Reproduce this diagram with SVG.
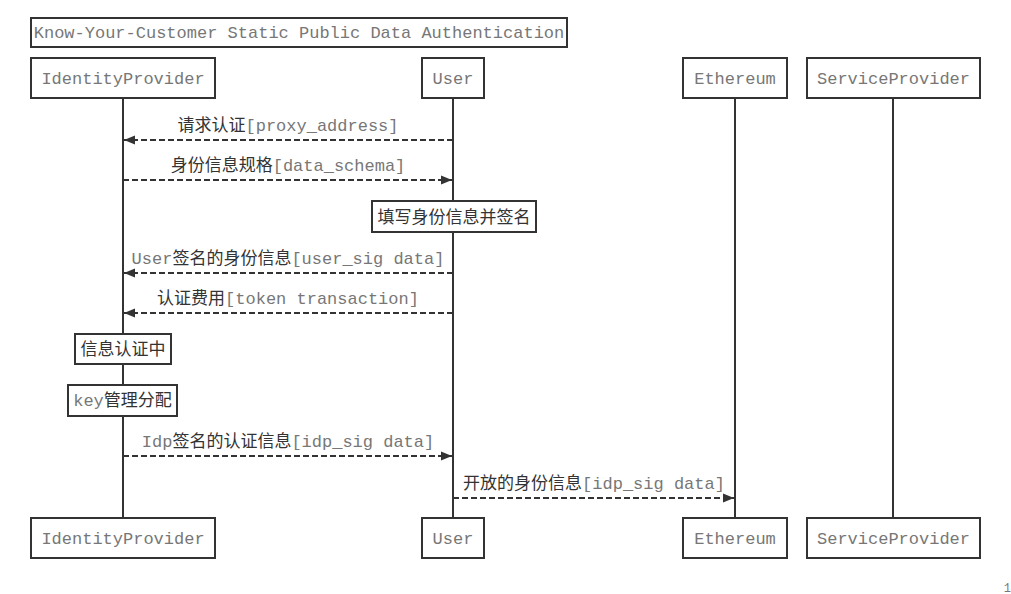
<svg xmlns="http://www.w3.org/2000/svg" width="1011" height="594" viewBox="0 0 1011 594">
<defs>
<style>
.box{fill:#fff;stroke:#333;stroke-width:2}
.life{stroke:#333;stroke-width:2}
.msg{stroke:#333;stroke-width:1.8;stroke-dasharray:6,3;fill:none}
text{font-family:'Liberation Mono','Noto Sans CJK SC',monospace;font-size:17px;fill:#777}
.c{fill:#333;font-family:'Noto Sans CJK SC',sans-serif}
.m{text-anchor:middle}
</style>
<marker id="ah" viewBox="0 0 11 10" refX="11" refY="5" markerWidth="11" markerHeight="10" markerUnits="userSpaceOnUse" orient="auto">
<path d="M0,0.5 L11,5 L0,9.5 Z" fill="#333"/>
</marker>
</defs>
<rect width="1011" height="594" fill="#fff"/>
<g id="title">
<rect class="box" x="31" y="18" width="536" height="29"/>
<text x="299" y="38" class="m">Know-Your-Customer Static Public Data Authentication</text>
</g>
<g id="lifelines">
<line class="life" x1="123" y1="98" x2="123" y2="518"/>
<line class="life" x1="453" y1="98" x2="453" y2="518"/>
<line class="life" x1="735" y1="98" x2="735" y2="518"/>
<line class="life" x1="893" y1="98" x2="893" y2="518"/>
</g>
<g id="IdentityProvider">
<rect class="box" x="31" y="58" width="184" height="40"/>
<text x="123" y="84" class="m">IdentityProvider</text>
<rect class="box" x="31" y="518" width="184" height="40"/>
<text x="123" y="544" class="m">IdentityProvider</text>
</g>
<g id="User">
<rect class="box" x="422" y="58" width="62" height="40"/>
<text x="453" y="84" class="m">User</text>
<rect class="box" x="422" y="518" width="62" height="40"/>
<text x="453" y="544" class="m">User</text>
</g>
<g id="Ethereum">
<rect class="box" x="683" y="58" width="104" height="40"/>
<text x="735" y="84" class="m">Ethereum</text>
<rect class="box" x="683" y="518" width="104" height="40"/>
<text x="735" y="544" class="m">Ethereum</text>
</g>
<g id="ServiceProvider">
<rect class="box" x="807" y="58" width="173" height="40"/>
<text x="893.5" y="84" class="m">ServiceProvider</text>
<rect class="box" x="807" y="518" width="173" height="40"/>
<text x="893.5" y="544" class="m">ServiceProvider</text>
</g>
<g id="note-fill">
<rect class="box" x="372" y="201" width="164" height="31"/>
<text x="454" y="223" class="m"><tspan class="c">填写身份信息并签名</tspan></text>
</g>
<g id="note-verify">
<rect class="box" x="75" y="334" width="96" height="30"/>
<text x="123" y="355" class="m"><tspan class="c">信息认证中</tspan></text>
</g>
<g id="note-key">
<rect class="box" x="68" y="385" width="109" height="31"/>
<text x="122.5" y="406" class="m">key<tspan class="c">管理分配</tspan></text>
</g>
<g id="connectors">
<line class="msg" x1="453" y1="140" x2="124" y2="140" marker-end="url(#ah)"/>
<text x="288" y="131" class="m"><tspan class="c">请求认证</tspan>[proxy_address]</text>
<line class="msg" x1="123" y1="180" x2="452" y2="180" marker-end="url(#ah)"/>
<text x="288" y="171" class="m"><tspan class="c">身份信息规格</tspan>[data_schema]</text>
<line class="msg" x1="453" y1="273" x2="124" y2="273" marker-end="url(#ah)"/>
<text x="288" y="264" class="m">User<tspan class="c">签名的身份信息</tspan>[user_sig data]</text>
<line class="msg" x1="453" y1="313" x2="124" y2="313" marker-end="url(#ah)"/>
<text x="288" y="304" class="m"><tspan class="c">认证费用</tspan>[token transaction]</text>
<line class="msg" x1="123" y1="456" x2="452" y2="456" marker-end="url(#ah)"/>
<text x="288" y="447" class="m">Idp<tspan class="c">签名的认证信息</tspan>[idp_sig data]</text>
<line class="msg" x1="453" y1="498" x2="734" y2="498" marker-end="url(#ah)"/>
<text x="594" y="489" class="m"><tspan class="c">开放的身份信息</tspan>[idp_sig data]</text>
</g>
<text x="1011" y="592" style="font-size:12px;text-anchor:end">1</text>
</svg>
